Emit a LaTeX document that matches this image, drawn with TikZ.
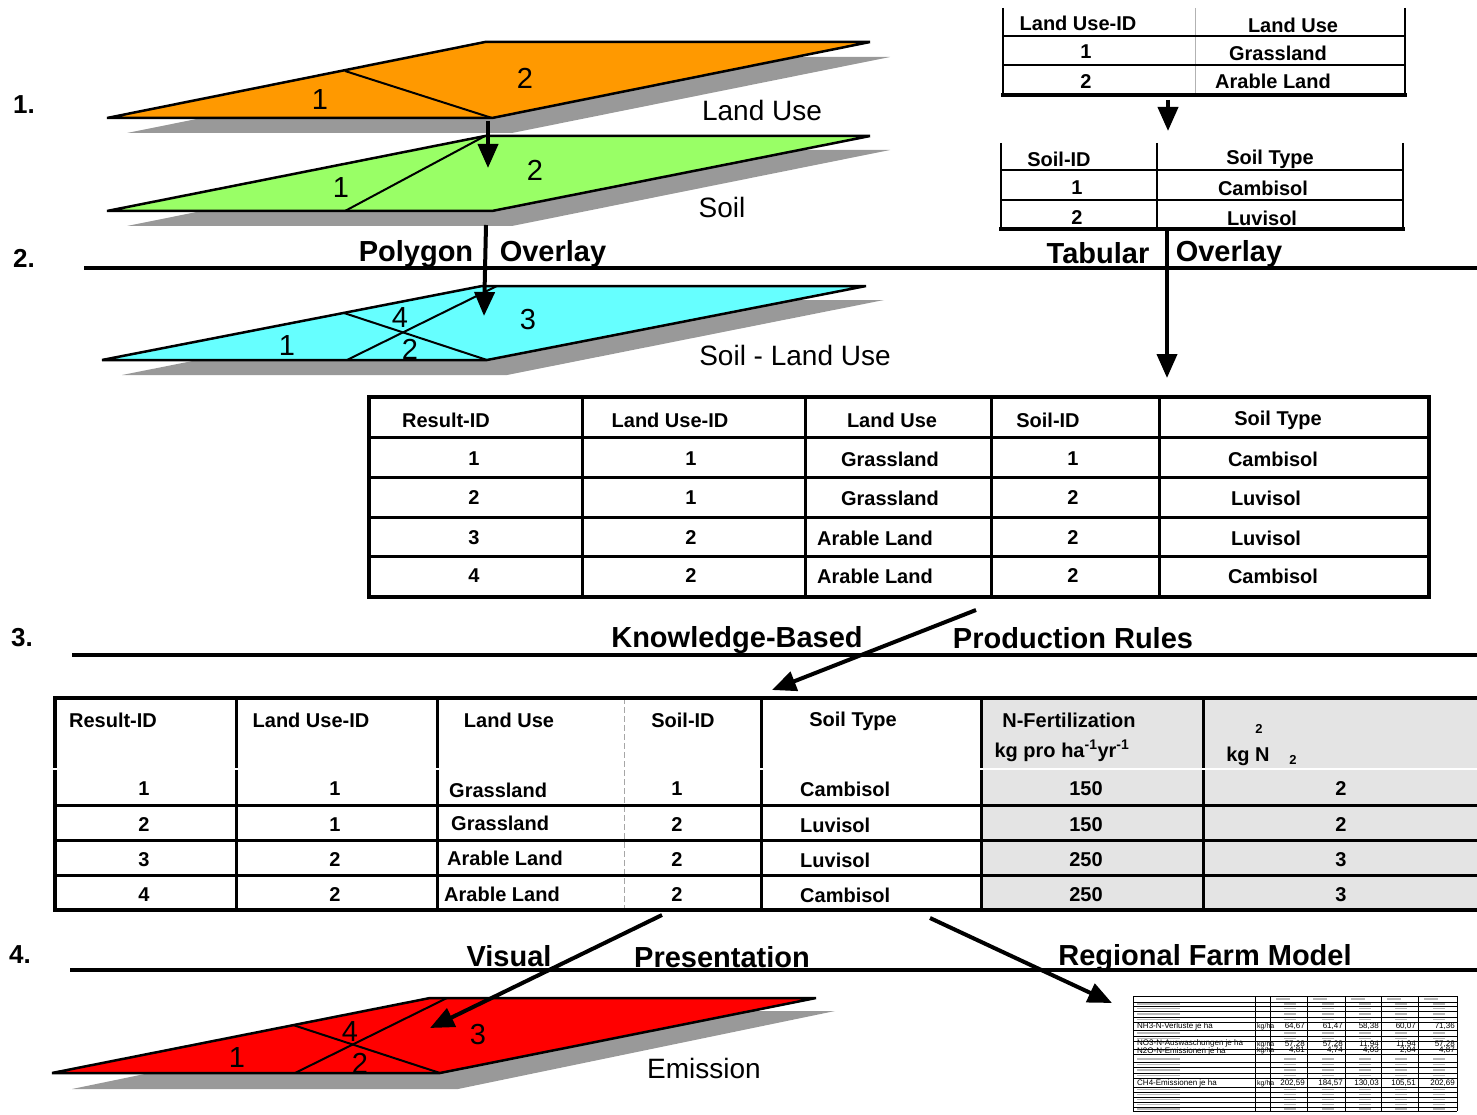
\documentclass[tikz,border=0pt]{standalone}
\usepackage{fontspec}
\setmainfont{Liberation Sans}
\usetikzlibrary{arrows.meta}
\newcommand{\myfs}[1]{\fontsize{#1}{#1}\selectfont}
\definecolor{orangeL}{HTML}{FF9900}
\definecolor{greenL}{HTML}{99FF66}
\definecolor{cyanL}{HTML}{66FFFF}
\definecolor{redL}{HTML}{FF0000}
\definecolor{shadowgray}{HTML}{999999}
\definecolor{cellgray}{HTML}{E4E4E4}
\begin{document}
\begin{tikzpicture}[x=1pt,y=-1pt,
  plane/.style={draw=black,line width=2.5pt,line join=miter},
  divline/.style={line width=2pt},
  polylbl/.style={font=\myfs{29},inner sep=0pt},
  layername/.style={font=\myfs{28},inner sep=0pt},
  stepnum/.style={font=\myfs{26}\bfseries,inner sep=0pt},
  secthead/.style={font=\myfs{29}\bfseries,inner sep=0pt},
  tcell/.style={font=\myfs{20}\bfseries,inner sep=0pt},
  hrule/.style={line width=4pt},
  bigarrow/.style={line width=4pt,-{Triangle[length=24pt,width=20pt]}},
  tline/.style={line width=2.5pt},
  tthick/.style={line width=4pt},
  ssline/.style={line width=0.7pt},
  ssgray/.style={line width=1.2pt,gray!55},
  sstext/.style={font=\myfs{8},inner sep=0pt},
]
\useasboundingbox (0,0) rectangle (1477,1115);

% ---------- step numbers ----------
\node[stepnum] (s1) at (24,105) {1.};
\node[stepnum] (s2) at (24,258) {2.};
\node[stepnum] (s3) at (22,638) {3.};
\node[stepnum] (s4) at (20,955) {4.};

% ---------- Land use layer ----------
\fill[shadowgray] (127,133) -- (512,133) -- (890,57) -- (505,57) -- cycle;
\filldraw[plane,fill=orangeL] (107,118) coordinate (oA) -- (492,118) coordinate (oB) -- (870,42) coordinate (oC) -- (485,42) coordinate (oD) -- cycle;
\coordinate (oE) at (345,71);
\draw[divline] (oE) -- (oB);
\node[polylbl] (o1) at (320,100) {1};
\node[polylbl] (o2) at (525,78) {2};
\node[layername] (lnLU) at (762,110) {Land Use};

% ---------- Soil layer ----------
\fill[shadowgray] (127,226) -- (512,226) -- (890,150) -- (505,150) -- cycle;
\filldraw[plane,fill=greenL] (107,211) coordinate (gA) -- (492,211) coordinate (gB) -- (870,136) coordinate (gC) -- (485,136) coordinate (gD) -- cycle;
\coordinate (gE) at (345,211);
\draw[divline] (gE) -- (gD);
\node[polylbl] (g1) at (341,188) {1};
\node[polylbl] (g2) at (535,170) {2};
\node[layername] (lnSoil) at (722,207) {Soil};

% ---------- rule 2 ----------
\coordinate (r2a) at (84,268);
\coordinate (r2b) at (1477,268);
\draw[hrule] (r2a) -- (r2b);
\node[secthead] (hPoly) at (416,254) {Polygon};
\node[secthead] (hOv1) at (553,254) {Overlay};
\node[secthead] (hTab) at (1098,253) {Tabular};
\node[secthead] (hOv2) at (1229,254) {Overlay};

% ---------- Soil - Land use layer ----------
\fill[shadowgray] (122,375) -- (507,375) -- (884,300) -- (500,300) -- cycle;
\filldraw[plane,fill=cyanL] (102,360) coordinate (cA) -- (487,360) coordinate (cB) -- (866,286) coordinate (cC) -- (482,286) coordinate (cD) -- cycle;
\coordinate (cE) at (344,313);
\coordinate (cF) at (347,360);
\coordinate (cG) at (497,286);
\draw[divline] (cE) -- (cB);
\draw[divline] (cF) -- (cG);
\node[polylbl] (c1) at (287,346) {1};
\node[polylbl] (c2) at (410,349) {2};
\node[polylbl] (c3) at (528,320) {3};
\node[polylbl] (c4) at (400,318) {4};
\node[layername] (lnSLU) at (795,355) {Soil - Land Use};

% ---------- arrows in polygon column ----------
\coordinate (a1s) at (488,121);
\coordinate (a1e) at (488,168);
\draw[bigarrow] (a1s) -- (a1e);
\coordinate (a2s) at (486,225);
\coordinate (a2e) at (484,316);
\draw[bigarrow] (a2s) -- (a2e);

% ---------- top-right table A ----------
\draw[tline] (1003,8) -- (1003,96);
\draw[tline] (1405,8) -- (1405,96);
\draw[line width=1pt,gray!60] (1195,8) -- (1195,95);
\draw[line width=2pt] (1003,36) -- (1405,36);
\draw[line width=2pt] (1003,65) -- (1405,65);
\draw[tthick] (1001,95) -- (1407,95);
\node[tcell] (ta-h1) at (1078,23) {Land Use-ID};
\node[tcell] (ta-h2) at (1293,25) {Land Use};
\node[tcell] (ta-11) at (1086,52) {1};
\node[tcell] (ta-12) at (1278,53) {Grassland};
\node[tcell] (ta-21) at (1086,82) {2};
\node[tcell] (ta-22) at (1273,81) {Arable Land};

\coordinate (a3s) at (1168,100);
\coordinate (a3e) at (1168,131);
\draw[bigarrow] (a3s) -- (a3e);

% ---------- top-right table B ----------
\draw[tline] (1001,143) -- (1001,230);
\draw[tline] (1403,143) -- (1403,230);
\draw[tline] (1157,143) -- (1157,229);
\draw[line width=2pt] (1001,170) -- (1403,170);
\draw[line width=2pt] (1001,200) -- (1403,200);
\draw[tthick] (999,229) -- (1405,229);
\node[tcell] (tb-h1) at (1059,159) {Soil-ID};
\node[tcell] (tb-h2) at (1270,159) {Soil Type};
\node[tcell] (tb-11) at (1077,188) {1};
\node[tcell] (tb-12) at (1263,188) {Cambisol};
\node[tcell] (tb-21) at (1077,218) {2};
\node[tcell] (tb-22) at (1262,218) {Luvisol};

\coordinate (a4s) at (1167,231);
\coordinate (a4e) at (1167,378);
\draw[bigarrow] (a4s) -- (a4e);

% ---------- middle result table ----------
\foreach \x in {582,805,991,1159} \draw[line width=3pt] (\x,397) -- (\x,597);
\foreach \y in {437,477,517,556} \draw[line width=3pt] (369,\y) -- (1429,\y);
\draw[tthick] (369,397) rectangle (1429,597);
\node[tcell] (mh1) at (446,420) {Result-ID};
\node[tcell] (mh2) at (670,420) {Land Use-ID};
\node[tcell] (mh3) at (892,420) {Land Use};
\node[tcell] (mh4) at (1048,420) {Soil-ID};
\node[tcell] (mh5) at (1278,420) {Soil Type};
\foreach \r/\y/\lid/\lu/\lux/\s/\st/\stx in
  {1/459/1/Grassland/890/1/Cambisol/1273,
   2/498/1/Grassland/890/2/Luvisol/1266,
   3/538/2/Arable Land/875/2/Luvisol/1266,
   4/576/2/Arable Land/875/2/Cambisol/1273}{
  \node[tcell] (m\r-a) at (474,\y) {\r};
  \node[tcell] (m\r-b) at (691,\y) {\lid};
  \node[tcell] (m\r-c) at (\lux,\y) {\lu};
  \node[tcell] (m\r-d) at (1073,\y) {\s};
  \node[tcell] (m\r-e) at (\stx,\y) {\st};
}

% ---------- rule 3 ----------
\coordinate (r3a) at (72,655);
\coordinate (r3b) at (1477,655);
\draw[hrule] (r3a) -- (r3b);
\node[secthead] (hKB) at (737,640) {Knowledge-Based};
\node[secthead] (hPR) at (1073,638) {Production Rules};

\coordinate (a5s) at (976,610);
\coordinate (a5e) at (772,690);
\draw[bigarrow] (a5s) -- (a5e);

% ---------- bottom table ----------
\fill[cellgray] (981,698) rectangle (1477,910);
\foreach \x in {236,437,761,981,1203} \draw[line width=3pt] (\x,698) -- (\x,910);
\draw[line width=1pt,gray!70,dash pattern=on 6pt off 3pt] (624,698) -- (624,910);
\foreach \y in {805,840,875} \draw[line width=3pt] (55,\y) -- (1477,\y);
\draw[tthick] (55,696) -- (55,912);
\draw[tthick] (53,698) -- (1477,698);
\draw[tthick] (53,910) -- (1477,910);
\draw[line width=2.5pt,white] (50,769) -- (1477,769);
\node[tcell] (bh1) at (113,720) {Result-ID};
\node[tcell] (bh2) at (311,720) {Land Use-ID};
\node[tcell] (bh3) at (509,720) {Land Use};
\node[tcell] (bh4) at (683,720) {Soil-ID};
\node[tcell] (bh5) at (853,721) {Soil Type};
\node[tcell] (bh6) at (1069,720) {N-Fertilization};
\node[tcell] (bh7) at (1062,751) {kg pro ha\textsuperscript{-1}yr\textsuperscript{-1}};
\node[font=\myfs{13}\bfseries,inner sep=0pt] (bh8) at (1259,729) {2};
\node[tcell] (bh9) at (1248,756) {kg N};
\node[font=\myfs{13}\bfseries,inner sep=0pt] (bh10) at (1293,760) {2};
\foreach \r/\y/\lid/\lu/\lux/\luy/\st/\nf/\kg in
  {1/789/1/Grassland/449/790/Cambisol/150/2,
   2/825/1/Grassland/451/823/Luvisol/150/2,
   3/860/2/Arable Land/447/858/Luvisol/250/3,
   4/895/2/Arable Land/444/894/Cambisol/250/3}{
  \node[tcell] (b\r-a) at (144,\y) {\r};
  \node[tcell] (b\r-b) at (335,\y) {\lid};
  \node[tcell,anchor=west] (b\r-c) at (\lux,\luy) {\lu};
  \node[tcell] (b\r-d) at (677,\y) {\ifnum\r=1 1\else 2\fi};
  \node[tcell,anchor=west] (b\r-e) at (800,\y) {\st};
  \node[tcell] (b\r-f) at (1086,\y) {\nf};
  \node[tcell] (b\r-g) at (1341,\y) {\kg};
}

% ---------- rule 4 ----------
\coordinate (r4a) at (70,970);
\coordinate (r4b) at (1477,970);
\draw[hrule] (r4a) -- (r4b);
\node[secthead] (hVis) at (509,956) {Visual};
\node[secthead] (hPres) at (722,957) {Presentation};
\node[secthead] (hRFM) at (1205,958) {Regional Farm Model};

% ---------- Emission layer ----------
\fill[shadowgray] (72,1089) -- (458,1089) -- (835,1011) -- (450,1011) -- cycle;
\filldraw[plane,fill=redL] (52,1073) coordinate (eA) -- (440,1073) coordinate (eB) -- (816,998) coordinate (eC) -- (430,998) coordinate (eD) -- cycle;
\coordinate (eE) at (293,1025);
\coordinate (eF) at (295,1073);
\coordinate (eG) at (447,998);
\draw[divline] (eE) -- (eB);
\draw[divline] (eF) -- (eG);
\node[polylbl] (e1) at (237,1058) {1};
\node[polylbl] (e2) at (360,1063) {2};
\node[polylbl] (e3) at (478,1035) {3};
\node[polylbl] (e4) at (350,1032) {4};
\node[layername] (lnEm) at (704,1068) {Emission};

\coordinate (a6s) at (662,915);
\coordinate (a6e) at (430,1028);
\draw[bigarrow] (a6s) -- (a6e);
\coordinate (a7s) at (930,918);
\coordinate (a7e) at (1112,1003);
\draw[bigarrow] (a7s) -- (a7e);

% ---------- farm model spreadsheet thumbnail ----------
\draw[ssline] (1133,996) -- (1457,996);
\foreach \x in {1133,1255,1270,1307,1345,1381,1418,1457} \draw[ssline] (\x,996) -- (\x,1111);
\foreach \y in {1002,1006,1011,1017,1022,1036,1041,1062,1067,1073,1078,1092,1097,1102,1107,1111}
  \draw[ssline] (1133,\y) -- (1457,\y);
\foreach \y in {1030,1049,1054,1087}
  \draw[line width=1pt] (1133,\y) -- (1457,\y);
\foreach \y in {1004,1008.5,1014,1019.5,1033,1038.5,1059,1064.5,1070,1075.5,1089.5,1094.5,1099.5,1104.5,1109}{
  \draw[ssgray] (1137,\y) -- (1180,\y);
  \foreach \x in {1284,1322,1359,1395,1433} \draw[ssgray] (\x,\y) -- (\x+12,\y);
}
\foreach \x in {1276,1313,1351,1387,1424} \draw[ssgray] (\x,999) -- (\x+14,999);
\node[sstext,anchor=base west] (ss1) at (1137,1028) {NH3-N-Verluste je ha};
\node[sstext,anchor=base west] (ss2) at (1137,1045) {NO3-N-Auswaschungen je ha};
\node[sstext,anchor=base west] (ss3) at (1137,1053) {N2O-N-Emissionen je ha};
\node[sstext,anchor=base west] (ss4) at (1137,1085) {CH4-Emissionen je ha};
\node[font=\myfs{7},inner sep=0pt,anchor=base west] (su1) at (1257,1028) {kg/ha};
\node[font=\myfs{7},inner sep=0pt,anchor=base west] (su2) at (1257,1046) {kg/ha};
\node[font=\myfs{7},inner sep=0pt,anchor=base west] (su3) at (1257,1052) {kg/ha};
\node[font=\myfs{7},inner sep=0pt,anchor=base west] (su4) at (1257,1085) {kg/ha};
\foreach \xe/\va/\vb/\vc/\vd [count=\i] in
  {1305/{64,67}/{57,28}/{4,81}/{202,59},
   1343/{61,47}/{57,28}/{4,74}/{184,57},
   1379/{58,38}/{11,94}/{4,03}/{130,03},
   1416/{60,07}/{11,94}/{2,04}/{105,51},
   1455/{71,36}/{57,28}/{4,87}/{202,69}}{
  \node[sstext,anchor=base east] (sv\i-a) at (\xe,1028) {\va};
  \node[sstext,anchor=base east] (sv\i-b) at (\xe,1046) {\vb};
  \node[sstext,anchor=base east] (sv\i-c) at (\xe,1052.5) {\vc};
  \node[sstext,anchor=base east] (sv\i-d) at (\xe,1085) {\vd};
}
\end{tikzpicture}
\end{document}
